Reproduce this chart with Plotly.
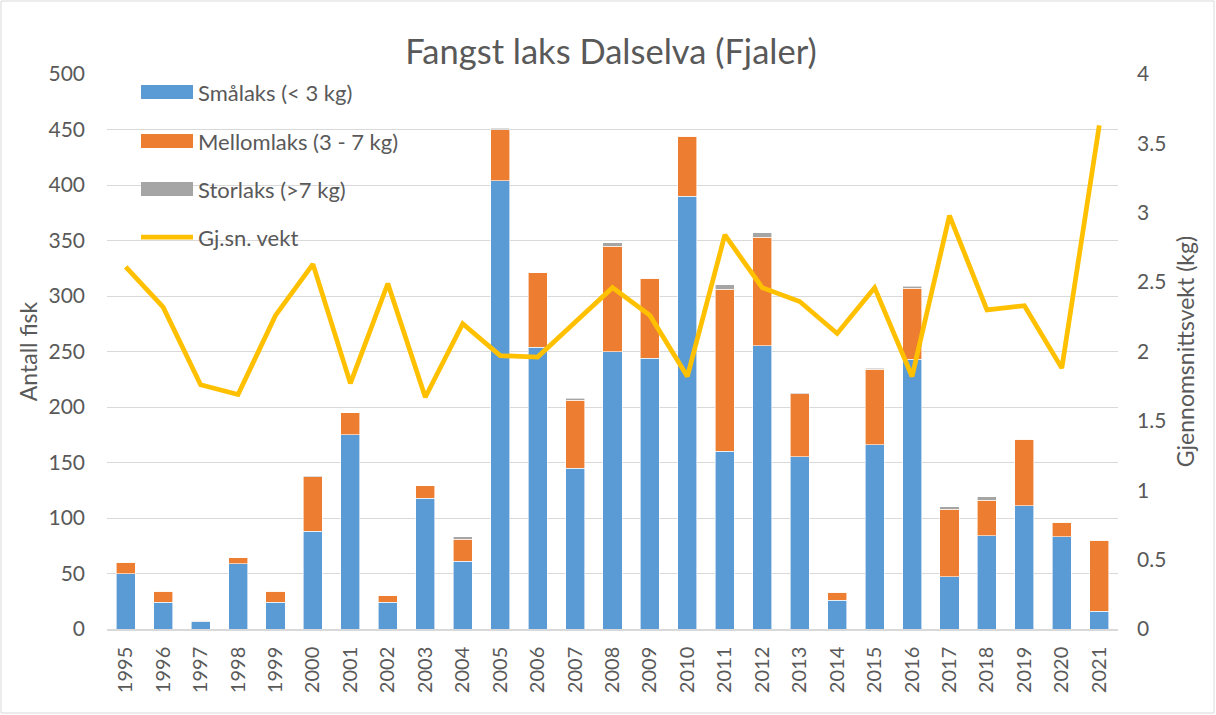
import plotly.graph_objects as go

# Catch data per year
years = [str(y) for y in range(1995, 2022)]
smalaks = [50, 24, 7, 59, 24, 88, 175, 24, 118, 61, 404, 254, 145, 250, 244,
           390, 160, 255, 155, 26, 166, 243, 47, 84, 111, 83, 16]
mellomlaks = [10, 10, 1, 5, 10, 49, 20, 6, 11, 20, 46, 67, 61, 95, 72,
              54, 146, 98, 57, 7, 68, 64, 61, 32, 60, 13, 64]
storlaks = [0, 0, 0, 0, 0, 1, 0, 0, 0, 2, 1, 0, 2, 3, 0,
            0, 4, 4, 1, 0, 1, 2, 2, 3, 0, 0, 0]
snittvekt = [2.61, 2.32, 1.76, 1.69, 2.26, 2.63, 1.77, 2.49, 1.67, 2.20, 1.97,
             1.96, 2.21, 2.46, 2.26, 1.82, 2.84, 2.46, 2.36, 2.13, 2.46, 1.82,
             2.98, 2.30, 2.33, 1.88, 3.63]

names = ["Smålaks (< 3 kg)", "Mellomlaks (3 - 7 kg)", "Storlaks (>7 kg)", "Gj.sn. vekt"]
colors = ["#5B9BD5", "#ED7D31", "#A5A5A5", "#FFC000"]

FONT = "Lato"
TXT = "#595959"

fig = go.Figure()
for vals, name, col in zip([smalaks, mellomlaks, storlaks], names[:3], colors[:3]):
    fig.add_trace(go.Bar(
        x=years, y=vals, name=name,
        marker=dict(color=col, line=dict(color="white", width=0.6)),
        showlegend=False,
    ))

fig.add_trace(go.Scatter(
    x=years, y=snittvekt, name=names[3], yaxis="y2", mode="lines",
    line=dict(color=colors[3], width=4.75),
    showlegend=False,
))

# Legend drawn by hand (wide swatches, stacked at top-left of the plot)
W, L, R, T, B = 1216, 107, 98, 74, 86
pw = W - L - R
ph = 715 - T - B


def px_x(px):
    return (px - L) / pw


def px_y(py):
    return (715 - B - py) / ph


shapes = []
annotations = []
legend_rows = [92, 141, 189, 237]
for i, (name, col) in enumerate(zip(names, colors)):
    yc = legend_rows[i]
    if i < 3:
        shapes.append(dict(type="rect", xref="paper", yref="paper",
                           x0=px_x(141), x1=px_x(193), y0=px_y(yc + 7), y1=px_y(yc - 7),
                           fillcolor=col, line=dict(width=0), layer="above"))
    else:
        shapes.append(dict(type="line", xref="paper", yref="paper",
                           x0=px_x(141), x1=px_x(193), y0=px_y(yc), y1=px_y(yc),
                           line=dict(color=col, width=4.75), layer="above"))
    annotations.append(dict(text=name, xref="paper", yref="paper",
                            x=px_x(196), y=px_y(yc), xanchor="left", yanchor="middle",
                            showarrow=False, font=dict(family=FONT, size=22, color=TXT)))

# Outer chart border
shapes.append(dict(type="rect", xref="paper", yref="paper",
                   x0=px_x(1), x1=px_x(1214), y0=px_y(713), y1=px_y(1),
                   line=dict(color="#D9D9D9", width=1), fillcolor="rgba(0,0,0,0)"))

fig.update_layout(
    width=W, height=715,
    margin=dict(l=L, r=R, t=T, b=B),
    paper_bgcolor="white", plot_bgcolor="white",
    barmode="stack", bargap=0.49,
    font=dict(family=FONT, color=TXT),
    title=dict(text="Fangst laks Dalselva (Fjaler)", x=611 / W, xanchor="center",
               y=1 - 52 / 715, yanchor="middle",
               font=dict(family=FONT, size=34.5, color=TXT)),
    xaxis=dict(type="category", range=[-0.5, 26.5], tickangle=-90,
               tickfont=dict(size=20, color=TXT), showgrid=False,
               showline=True, linecolor="#D9D9D9", linewidth=1.5,
               ticks="", ticklabelstandoff=8),
    yaxis=dict(range=[0, 500], dtick=50, showgrid=True, gridcolor="#D9D9D9",
               gridwidth=1, zeroline=False, showline=False, ticks="",
               tickfont=dict(size=21, color=TXT), ticklabelstandoff=21,
               title=dict(text="Antall fisk", font=dict(size=23, color=TXT), standoff=4)),
    yaxis2=dict(range=[0, 4], dtick=0.5, overlaying="y", side="right",
                showgrid=False, zeroline=False, showline=False, ticks="",
                tickfont=dict(size=21, color=TXT), ticklabelstandoff=18,
                title=dict(text="Gjennomsnittsvekt (kg)", font=dict(size=23, color=TXT),
                           standoff=12)),
    shapes=shapes,
    annotations=annotations,
)

fig.write_html("out.html")
